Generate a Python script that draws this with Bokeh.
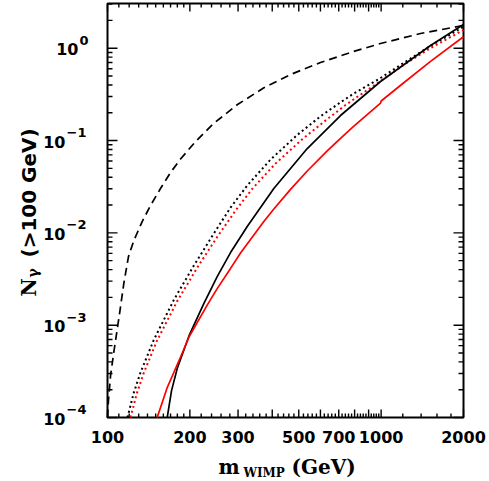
import math
from bokeh.plotting import figure
from bokeh.models import Range1d
from bokeh.core.properties import value
from bokeh.embed import file_html
from bokeh.resources import INLINE

# ---------------- data ----------------
m_dashed = [100, 100.8, 102.6, 105.4, 110.0, 114.7, 119.3, 124.8, 133.9, 143.6, 156.2,
            169.9, 184.9, 209.8, 244.1, 298.7, 371.7, 466.6, 600.3, 792.9, 995, 1393, 2000]
n_dashed = [1.0e-4, 1.52e-4, 2.84e-4, 5.05e-4, 1.18e-3, 2.82e-3, 5.53e-3, 8.25e-3, 1.326e-2,
            1.976e-2, 3.02e-2, 4.50e-2, 6.30e-2, 9.75e-2, 0.1528, 0.2455, 0.3705, 0.5189,
            0.6998, 0.921, 1.124, 1.443, 1.762]

m_black_dot = [118.3, 124.5, 132.0, 147.6, 174.7, 206.8, 242, 281.6, 324.1, 394.2, 494.9,
               600.3, 710.5, 792.9, 995, 1207.7, 1515.6, 2000]
n_black_dot = [1.0e-4, 1.815e-4, 3.066e-4, 6.91e-4, 1.875e-3, 4.42e-3, 9.35e-3, 1.879e-2,
               3.254e-2, 6.22e-2, 0.1156, 0.1829, 0.2594, 0.3223, 0.4755, 0.6913, 1.062, 1.710]

m_red_dot = [121.4, 127.6, 135.4, 151.7, 180.3, 215.1, 252.4, 293.7, 338.8, 411.2, 516.1,
             626.2, 741.3, 826.9, 995, 1207.7, 1515.6, 2000]
n_red_dot = [1.0e-4, 1.77e-4, 2.994e-4, 6.81e-4, 1.847e-3, 4.42e-3, 9.12e-3, 1.744e-2,
             3.02e-2, 5.63e-2, 0.1038, 0.1647, 0.2424, 0.3034, 0.4412, 0.6577, 1.005, 1.575]

m_black_solid = [165.3, 171.4, 179.8, 199.4, 224.9, 251.7, 281.6, 324.1, 405.4, 537, 710.5,
                 995, 1515.6, 2000]
n_black_solid = [1.0e-4, 1.955e-4, 3.39e-4, 7.91e-4, 1.714e-3, 3.36e-3, 6.12e-3, 1.17e-2,
                 3.02e-2, 8.19e-2, 0.1866, 0.4357, 1.070, 1.806]

m_red_solid = [151.9, 165.3, 184.9, 199.4, 231.4, 251.7, 281.6, 306.3, 372.7, 405.4, 466.6,
               537, 635.3, 710.5, 794.9, 995, 1000, 1210, 1515.6, 2000]
n_red_solid = [1.0e-4, 2.11e-4, 4.52e-4, 7.64e-4, 1.65e-3, 2.49e-3, 4.12e-3, 6.04e-3,
               1.326e-2, 1.81e-2, 2.96e-2, 4.68e-2, 7.71e-2, 0.1056, 0.1432, 0.2548, 0.268,
               0.4228, 0.721, 1.332]

x_major = [100, 200, 300, 400, 500, 600, 700, 800, 900, 1000, 2000]
x_minor = ([110, 120, 130, 140, 150, 160, 170, 180, 190]
           + [v for v in range(220, 1000, 20) if v % 100 != 0]
           + [1200, 1400, 1600, 1800])
x_labels = [100, 200, 300, 500, 700, 1000, 2000]
x_label_texts = ["100", "200", "300", "500", "700", "1000", "2000"]

y_major = [1e-4, 1e-3, 1e-2, 1e-1, 1e0]
y_label_base = ["10", "10", "10", "10", "10"]
y_label_exp = ["\u22124", "\u22123", "\u22122", "\u22121", "0"]

x_min, x_max = 100, 2000
y_min, y_max = 1e-4, 3.05
y_minor = [k * 10.0 ** e for e in range(-4, 1) for k in range(2, 10) if k * 10.0 ** e <= y_max]

# ---------------- layout (pixels) ----------------
W, H = 489, 481
PX_L, PX_R, PX_T, PX_B = 107, 463, 3, 417   # plot box inside the canvas

kx = math.log10(x_max / x_min) / (PX_R - PX_L)   # decades per pixel
ky = math.log10(y_max / y_min) / (PX_B - PX_T)
x_lo = x_min * 10 ** (-PX_L * kx)
x_hi = x_max * 10 ** ((W - PX_R) * kx)
y_lo = y_min * 10 ** (-(H - PX_B) * ky)
y_hi = y_max * 10 ** (PX_T * ky)

p = figure(width=W, height=H, x_axis_type="log", y_axis_type="log",
           x_range=Range1d(x_lo, x_hi), y_range=Range1d(y_lo, y_hi),
           x_axis_location=None, y_axis_location=None, title=None,
           output_backend="svg", toolbar_location=None, min_border=0)
p.min_border_left = 0
p.min_border_right = 0
p.min_border_top = 0
p.min_border_bottom = 0
p.xgrid.visible = False
p.ygrid.visible = False
p.outline_line_color = None
p.background_fill_color = "white"
p.border_fill_color = "white"

# ---------------- ticks (inward, on all four sides) ----------------
tick_w = 1.4
def xticks(vals, length_px):
    n = len(vals)
    up = 10 ** (length_px * ky)
    p.segment(x0=vals, y0=[y_min] * n, x1=vals, y1=[y_min * up] * n,
              line_color="black", line_width=tick_w)
    p.segment(x0=vals, y0=[y_max] * n, x1=vals, y1=[y_max / up] * n,
              line_color="black", line_width=tick_w)

def yticks(vals, length_px):
    n = len(vals)
    right = 10 ** (length_px * kx)
    p.segment(x0=[x_min] * n, y0=vals, x1=[x_min * right] * n, y1=vals,
              line_color="black", line_width=tick_w)
    p.segment(x0=[x_max] * n, y0=vals, x1=[x_max / right] * n, y1=vals,
              line_color="black", line_width=tick_w)

xticks(x_major, 8)
xticks(x_minor, 4)
yticks(y_major, 10)
yticks(y_minor, 5)

# plot box
p.quad(left=[x_min], right=[x_max], bottom=[y_min], top=[y_max],
       fill_color=None, line_color="black", line_width=2)

# ---------------- curves ----------------
lw = 1.7
p.line(m_dashed, n_dashed, line_color="black", line_width=lw, line_dash="8 5")
p.line(m_black_dot, n_black_dot, line_color="black", line_width=lw + 0.3, line_dash="2 3")
p.line(m_red_dot, n_red_dot, line_color="#ff0000", line_width=lw + 0.3, line_dash="2 3")
p.line(m_black_solid, n_black_solid, line_color="black", line_width=lw)
p.line(m_red_solid, n_red_solid, line_color="#ff0000", line_width=lw)

# ---------------- tick labels ----------------
sans = value("DejaVu Sans")
serif = value("DejaVu Serif")

p.text(x=x_labels, y=[y_min] * len(x_labels), text=x_label_texts,
       x_offset=0, y_offset=13, text_align="center", text_baseline="top",
       text_font=sans, text_font_style="bold", text_font_size=value("16px"),
       text_color="black")

base_off = [-42 if e != "0" else -29 for e in y_label_exp]
p.text(x=[x_min] * len(y_major), y=y_major, text=y_label_base, x_offset=base_off, y_offset=1,
       text_align="right", text_baseline="middle",
       text_font=sans, text_font_style="bold", text_font_size=value("16px"),
       text_color="black")
p.text(x=[x_min] * len(y_major), y=y_major, text=y_label_exp,
       x_offset=[o + 1 for o in base_off], y_offset=-8, text_align="left",
       text_baseline="middle", text_font=sans, text_font_style="bold",
       text_font_size=value("13px"), text_color="black")

# ---------------- axis titles ----------------
p.text(x=[x_min], y=[y_min], text=["m"], x_offset=111, y_offset=49,
       text_align="left", text_baseline="middle",
       text_font=serif, text_font_style="bold", text_font_size=value("20px"))
p.text(x=[x_min], y=[y_min], text=["WIMP"], x_offset=136, y_offset=55,
       text_align="left", text_baseline="middle",
       text_font=serif, text_font_style="bold", text_font_size=value("12px"))
p.text(x=[x_min], y=[y_min], text=["(GeV)"], x_offset=184, y_offset=49,
       text_align="left", text_baseline="middle",
       text_font=serif, text_font_style="bold", text_font_size=value("20px"))

p.text(x=[x_min], y=[y_min], text=["N"], x_offset=-79, y_offset=-121, angle=math.pi / 2,
       text_align="left", text_baseline="alphabetic",
       text_font=serif, text_font_style="bold", text_font_size=value("20px"))
p.text(x=[x_min], y=[y_min], text=["\u03b3"], x_offset=-75, y_offset=-140, angle=math.pi / 2,
       text_align="left", text_baseline="alphabetic",
       text_font=serif, text_font_style="bold", text_font_size=value("14px"))
p.text(x=[x_min], y=[y_min], text=["(>100 GeV)"], x_offset=-79, y_offset=-160,
       angle=math.pi / 2, text_align="left", text_baseline="alphabetic",
       text_font=sans, text_font_style="bold", text_font_size=value("20px"))

open("out.html", "w").write(file_html(p, INLINE))
